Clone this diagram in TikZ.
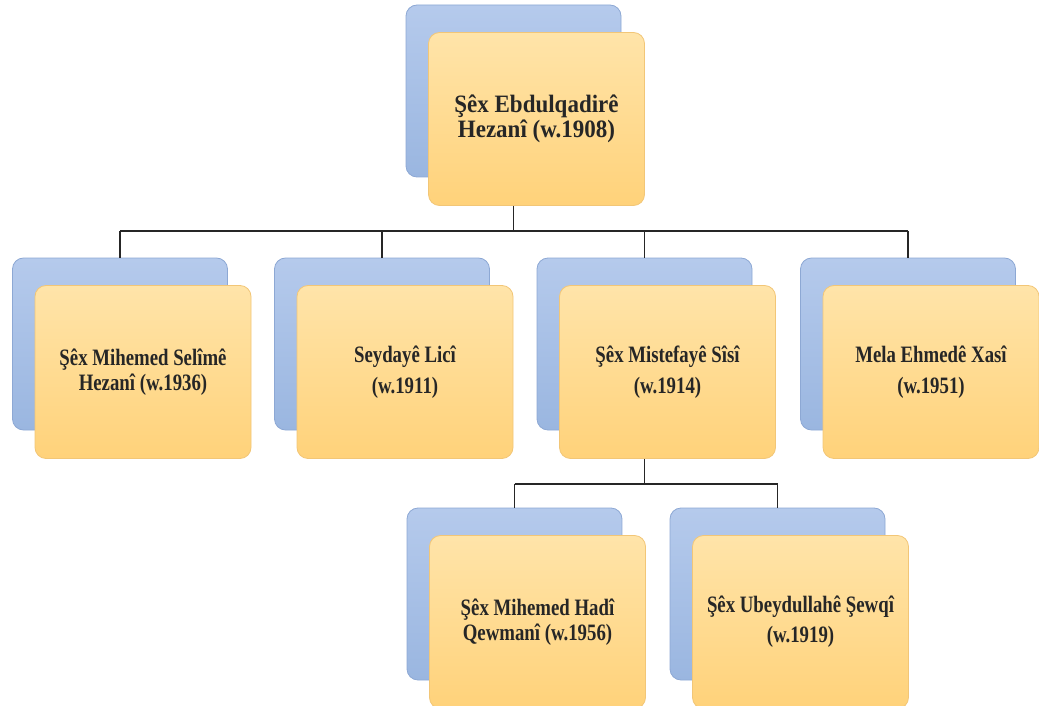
\documentclass[tikz,border=0pt]{standalone}
\usepackage{fontspec}
\setmainfont{Liberation Serif}
\newfontfamily\reihenschrift[FakeStretch=0.8]{Liberation Serif}
\newfontfamily\spitzenschrift[FakeStretch=0.92]{Liberation Serif}
\usepackage{tikz}
\usetikzlibrary{calc,
                positioning
                }

\definecolor{blauoben}{HTML}{B5CAEC}
\definecolor{blauunten}{HTML}{9AB6E0}
\definecolor{blaurand}{HTML}{8DA8D4}
\definecolor{gelboben}{HTML}{FFE4A9}
\definecolor{gelbunten}{HTML}{FFD27A}
\definecolor{gelbrand}{HTML}{F2C677}

\tikzset{
    hinten/.style={rectangle, rounded corners=11pt, minimum width=215pt,
        minimum height=172pt, draw=blaurand, line width=0.8pt,
        top color=blauoben, bottom color=blauunten},
    vorne/.style={rectangle, rounded corners=11pt, minimum width=216pt,
        minimum height=173pt, draw=gelbrand, line width=0.8pt,
        top color=gelboben, bottom color=gelbunten, align=center,
        font=\reihenschrift\bfseries\fontsize{23.5}{25}\selectfont,
        text=black!85},
    linie/.style={line width=1.6pt, black!85}
}

\begin{document}
\begin{tikzpicture}[x=1pt, y=-1pt]
    % Rahmen des Bildes
    \useasboundingbox (0,0) rectangle (1039,706);

    % Oberster Kasten
    \node[hinten] (b0) at (513.5,91) {};
    \node[vorne, font=\spitzenschrift\bfseries\fontsize{25}{25}\selectfont]
        (t0) at ($(b0)+(23,28)$) {Şêx Ebdulqadirê\\Hezanî (w.1908)};

    % Zweite Reihe
    \node[hinten] (b1) at (120,344) {};
    \node[vorne] (t1) at ($(b1)+(23,28)$) {Şêx Mihemed Selîmê\\Hezanî (w.1936)};
    \node[hinten] (b2) at (382,344) {};
    \node[vorne] (t2) at ($(b2)+(23,28)$) {Seydayê Licî\\[6pt](w.1911)};
    \node[hinten] (b3) at (644.5,344) {};
    \node[vorne] (t3) at ($(b3)+(23,28)$) {Şêx Mistefayê Sîsî\\[6pt](w.1914)};
    \node[hinten] (b4) at (908,344) {};
    \node[vorne] (t4) at ($(b4)+(23,28)$) {Mela Ehmedê Xasî\\[6pt](w.1951)};

    % Dritte Reihe
    \node[hinten] (b5) at (514.5,594) {};
    \node[vorne] (t5) at ($(b5)+(23,28)$) {Şêx Mihemed Hadî\\Qewmanî (w.1956)};
    \node[hinten] (b6) at (777.5,594) {};
    \node[vorne] (t6) at ($(b6)+(23,28)$) {Şêx Ubeydullahê Şewqî\\[5pt](w.1919)};

    % Verbindungen von oben zur zweiten Reihe
    \coordinate (j0) at ($(b0 |- t0.south)+(0,25)$);
    \draw[linie] (b0 |- t0.south) -- (j0);
    \draw[linie] (j0 -| b1) -- (j0 -| b4);
    \foreach \k in {b1,b2,b3,b4}
        \draw[linie] (j0 -| \k) -- (\k.north);

    % Verbindungen zur dritten Reihe
    \coordinate (j3) at ($(b3 |- t3.south)+(0,25)$);
    \draw[linie] (b3 |- t3.south) -- (j3);
    \draw[linie] (j3 -| b5) -- (j3 -| b6);
    \foreach \k in {b5,b6}
        \draw[linie] (j3 -| \k) -- (\k.north);

\end{tikzpicture}
\end{document}
